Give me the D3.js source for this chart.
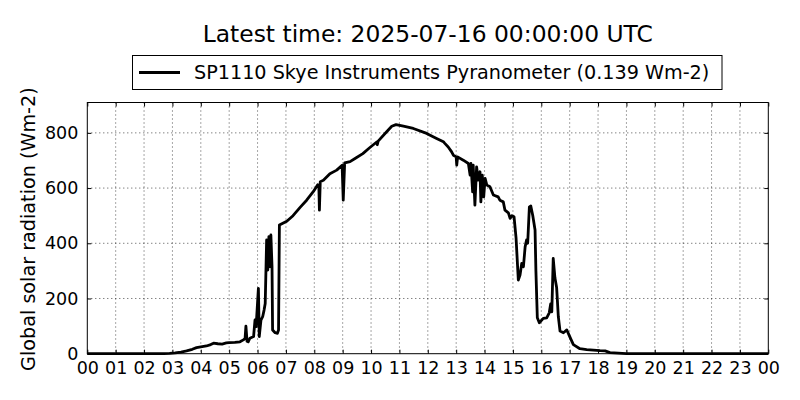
<!DOCTYPE html>
<html>
<head>
<meta charset="utf-8">
<script src="https://cdn.jsdelivr.net/npm/d3@7"></script>
<style>
  html, body { margin: 0; padding: 0; background: #fff; }
  svg { display: block; font-family: "DejaVu Sans", sans-serif; }
</style>
</head>
<body>
<svg id="chart" width="800" height="400"></svg>
<script>
const titleText = "Latest time: 2025-07-16 00:00:00 UTC";
const seriesName = "SP1110 Skye Instruments Pyranometer (0.139 Wm-2)";
const yLabel = "Global solar radiation (Wm-2)";

const hours = [0, 1, 2, 2.7, 2.9, 3.1, 3.3, 3.5, 3.7, 3.85, 4.0, 4.2, 4.35, 4.45, 4.6, 4.75, 4.9, 5.0, 5.2, 5.38,
  5.5, 5.56, 5.59, 5.63, 5.67, 5.73, 5.86, 5.91, 5.95, 6.03, 6.06, 6.12, 6.18, 6.23, 6.27, 6.32, 6.36, 6.40, 6.44, 6.47,
  6.51, 6.53, 6.62, 6.70, 6.74, 6.77, 7.03, 7.25, 7.5, 7.73, 7.97, 8.12, 8.16, 8.18, 8.21, 8.32, 8.55, 8.79, 8.98, 9.02,
  9.07, 9.26, 9.45, 9.71, 9.96, 10.2, 10.22, 10.25, 10.55, 10.73, 10.88, 11.14, 11.49, 11.96, 12.31, 12.55, 12.6, 12.72, 12.84, 12.9,
  13.0, 13.02, 13.05, 13.25, 13.43, 13.49, 13.52, 13.58, 13.60, 13.66, 13.72, 13.78, 13.84, 13.87, 13.92, 13.97, 14.02, 14.08, 14.19, 14.31,
  14.48, 14.54, 14.66, 14.72, 14.84, 14.90, 14.96, 15.04, 15.11, 15.19, 15.25, 15.31, 15.37, 15.43, 15.48, 15.52, 15.58, 15.63, 15.70, 15.78,
  15.81, 15.86, 15.93, 16.07, 16.19, 16.28, 16.33, 16.37, 16.42, 16.48, 16.54, 16.60, 16.66, 16.78, 16.90, 17.01, 17.13, 17.36, 17.6, 18.07,
  18.25, 18.42, 19.0, 20, 24];
const radiation = [0, 0, 0, 0, 1, 3, 6, 10, 16, 22, 25, 28, 33, 38, 36, 35, 39, 40, 41, 43,
  50, 55, 100, 45, 43, 56, 62, 122, 98, 237, 62, 122, 134, 158, 182, 412, 303, 424, 315, 430,
  315, 86, 76, 74, 86, 466, 480, 500, 530, 556, 588, 612, 610, 520, 623, 628, 652, 665, 683, 556,
  691, 696, 708, 725, 747, 767, 757, 770, 804, 824, 830, 824, 816, 798, 780, 768, 762, 749, 731, 719,
  713, 683, 713, 701, 689, 647, 689, 586, 683, 538, 677, 629, 659, 550, 647, 568, 635, 611, 605, 575,
  568, 556, 550, 520, 510, 490, 500, 496, 420, 267, 285, 327, 315, 387, 412, 400, 532, 535, 500, 448,
  300, 130, 112, 128, 130, 148, 180, 152, 345, 275, 240, 134, 82, 76, 86, 60, 33, 18, 15, 11,
  10, 4, 0, 0, 0];

const xTickHours = d3.range(0, 25, 1);
const xTickLabels = ["00","01","02","03","04","05","06","07","08","09","10","11","12","13","14","15","16","17","18","19","20","21","22","23","00"];
const yTicks = [0, 200, 400, 600, 800];
const yMax = 910;

const svg = d3.select("#chart");
const pL = 87.3, pR = 768.3, pT = 102.5, pB = 353.7;

const x = d3.scaleLinear().domain([0, 24]).range([pL, pR]);
const y = d3.scaleLinear().domain([0, yMax]).range([pB, pT]);

// grid
const grid = svg.append("g");
grid.selectAll("line.vg").data(xTickHours.slice(1, -1)).join("line")
  .attr("x1", d => x(d)).attr("x2", d => x(d)).attr("y1", pT).attr("y2", pB)
  .attr("stroke", "#000").attr("stroke-width", 0.7).attr("stroke-dasharray", "1,3");
grid.selectAll("line.hg").data(yTicks.slice(1)).join("line")
  .attr("y1", d => y(d)).attr("y2", d => y(d)).attr("x1", pL).attr("x2", pR)
  .attr("stroke", "#000").attr("stroke-width", 0.7).attr("stroke-dasharray", "1,3");

// data line
const pts = hours.map((h, i) => [h, radiation[i]]);
svg.append("path")
  .datum(pts)
  .attr("fill", "none")
  .attr("stroke", "#000")
  .attr("stroke-width", 2.8)
  .attr("stroke-linejoin", "round")
  .attr("d", d3.line().x(d => x(d[0])).y(d => y(d[1])));

// axes
const xAxis = d3.axisBottom(x).tickValues(xTickHours).tickFormat((d, i) => xTickLabels[i]).tickSizeInner(-4).tickSizeOuter(0).tickPadding(8);
const gx = svg.append("g").attr("transform", `translate(0,${pB})`).call(xAxis);
gx.select(".domain").remove();
gx.selectAll("text").attr("font-size", 17.5).attr("fill", "#000").attr("font-family", "DejaVu Sans");

const yAxis = d3.axisLeft(y).tickValues(yTicks).tickSizeInner(-4).tickSizeOuter(0).tickPadding(9);
const gy = svg.append("g").attr("transform", `translate(${pL},0)`).call(yAxis);
gy.select(".domain").remove();
gy.selectAll("text").attr("font-size", 17.5).attr("fill", "#000").attr("font-family", "DejaVu Sans");

// top/right ticks
const xTop = d3.axisTop(x).tickValues(xTickHours).tickFormat("").tickSizeInner(-4).tickSizeOuter(0);
const gxt = svg.append("g").attr("transform", `translate(0,${pT})`).call(xTop);
gxt.select(".domain").remove();
const yRight = d3.axisRight(y).tickValues(yTicks).tickFormat("").tickSizeInner(-4).tickSizeOuter(0);
const gyr = svg.append("g").attr("transform", `translate(${pR},0)`).call(yRight);
gyr.select(".domain").remove();

// frame
svg.append("rect").attr("x", pL).attr("y", pT).attr("width", pR - pL).attr("height", pB - pT)
  .attr("fill", "none").attr("stroke", "#000").attr("stroke-width", 1);

// title
svg.append("text").attr("x", (pL + pR) / 2).attr("y", 42).attr("text-anchor", "middle")
  .attr("font-size", 23.4).attr("fill", "#000").text(titleText);

// legend
const lg = svg.append("g");
lg.append("rect").attr("x", 132.5).attr("y", 55.5).attr("width", 589.5).attr("height", 34)
  .attr("fill", "#fff").attr("stroke", "#000").attr("stroke-width", 1);
lg.append("line").attr("x1", 139).attr("x2", 180).attr("y1", 72.5).attr("y2", 72.5)
  .attr("stroke", "#000").attr("stroke-width", 2.8);
lg.append("text").attr("x", 194).attr("y", 79).attr("font-size", 19.2).attr("fill", "#000").text(seriesName);

// y label
svg.append("text").attr("transform", `translate(35,${(pT + pB) / 2 + 1}) rotate(-90)`)
  .attr("text-anchor", "middle").attr("font-size", 19.2).attr("fill", "#000").text(yLabel);
</script>
</body>
</html>
